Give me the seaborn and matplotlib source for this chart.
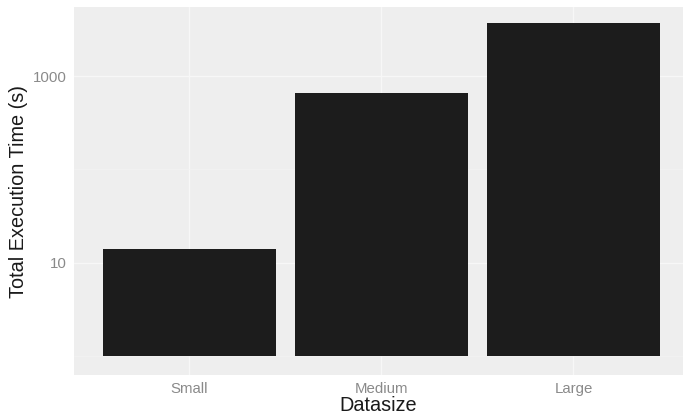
import matplotlib
matplotlib.use("Agg")
import matplotlib.pyplot as plt
import seaborn as sns
import pandas as pd
import numpy as np

categories = ["Small", "Medium", "Large"]
times = [14.1, 658, 3690]
y_ticks = [10, 1000]
y_tick_labels = ["10", "1000"]

df = pd.DataFrame({"Datasize": categories, "Time": times})

sns.set_theme(style="darkgrid")
plt.rcParams["font.family"] = ["Liberation Sans", "DejaVu Sans"]

fig = plt.figure(figsize=(6.83, 4.15), dpi=100)
fig.patch.set_facecolor("white")
ax = fig.add_axes([74 / 683, 1 - 375 / 415, 1 - 74 / 683, (375 - 7) / 415])
ax.set_facecolor("#EEEEEE")

sns.barplot(data=df, x="Datasize", y="Time", order=categories, color="#1C1C1C",
            saturation=1, width=0.9, ax=ax, errorbar=None, edgecolor="none")
ax.set_yscale("log")
# bars start at 10^0 like ggplot's log-scale bars
for p in ax.patches:
    top = p.get_y() + p.get_height()
    p.set_y(1)
    p.set_height(top - 1)

ax.set_ylim(10 ** -0.198, 10 ** 3.738)
ax.set_xlim(-0.60, 2.57)
ax.set_yticks(y_ticks)
ax.set_yticklabels(y_tick_labels)
ax.yaxis.set_minor_locator(matplotlib.ticker.FixedLocator([1, 100]))
ax.yaxis.set_minor_formatter(matplotlib.ticker.NullFormatter())
ax.grid(True, which="major", color="#F7F7F7", linewidth=1.0)
ax.grid(True, which="minor", axis="y", color="#F3F3F3", linewidth=0.5)
ax.tick_params(axis="y", which="minor", length=0)
ax.tick_params(axis="both", which="major", length=3, width=0.6, color="#999999",
               labelcolor="#8A8A8A", labelsize=10.8, pad=2)
for s in ax.spines.values():
    s.set_visible(False)

ax.set_xlabel("Datasize", fontsize=14.3, color="#1A1A1A", labelpad=0)
ax.set_ylabel("Total Execution Time (s)", fontsize=14.3, color="#1A1A1A", labelpad=4)

fig.savefig("out.png", dpi=100, facecolor="white")
